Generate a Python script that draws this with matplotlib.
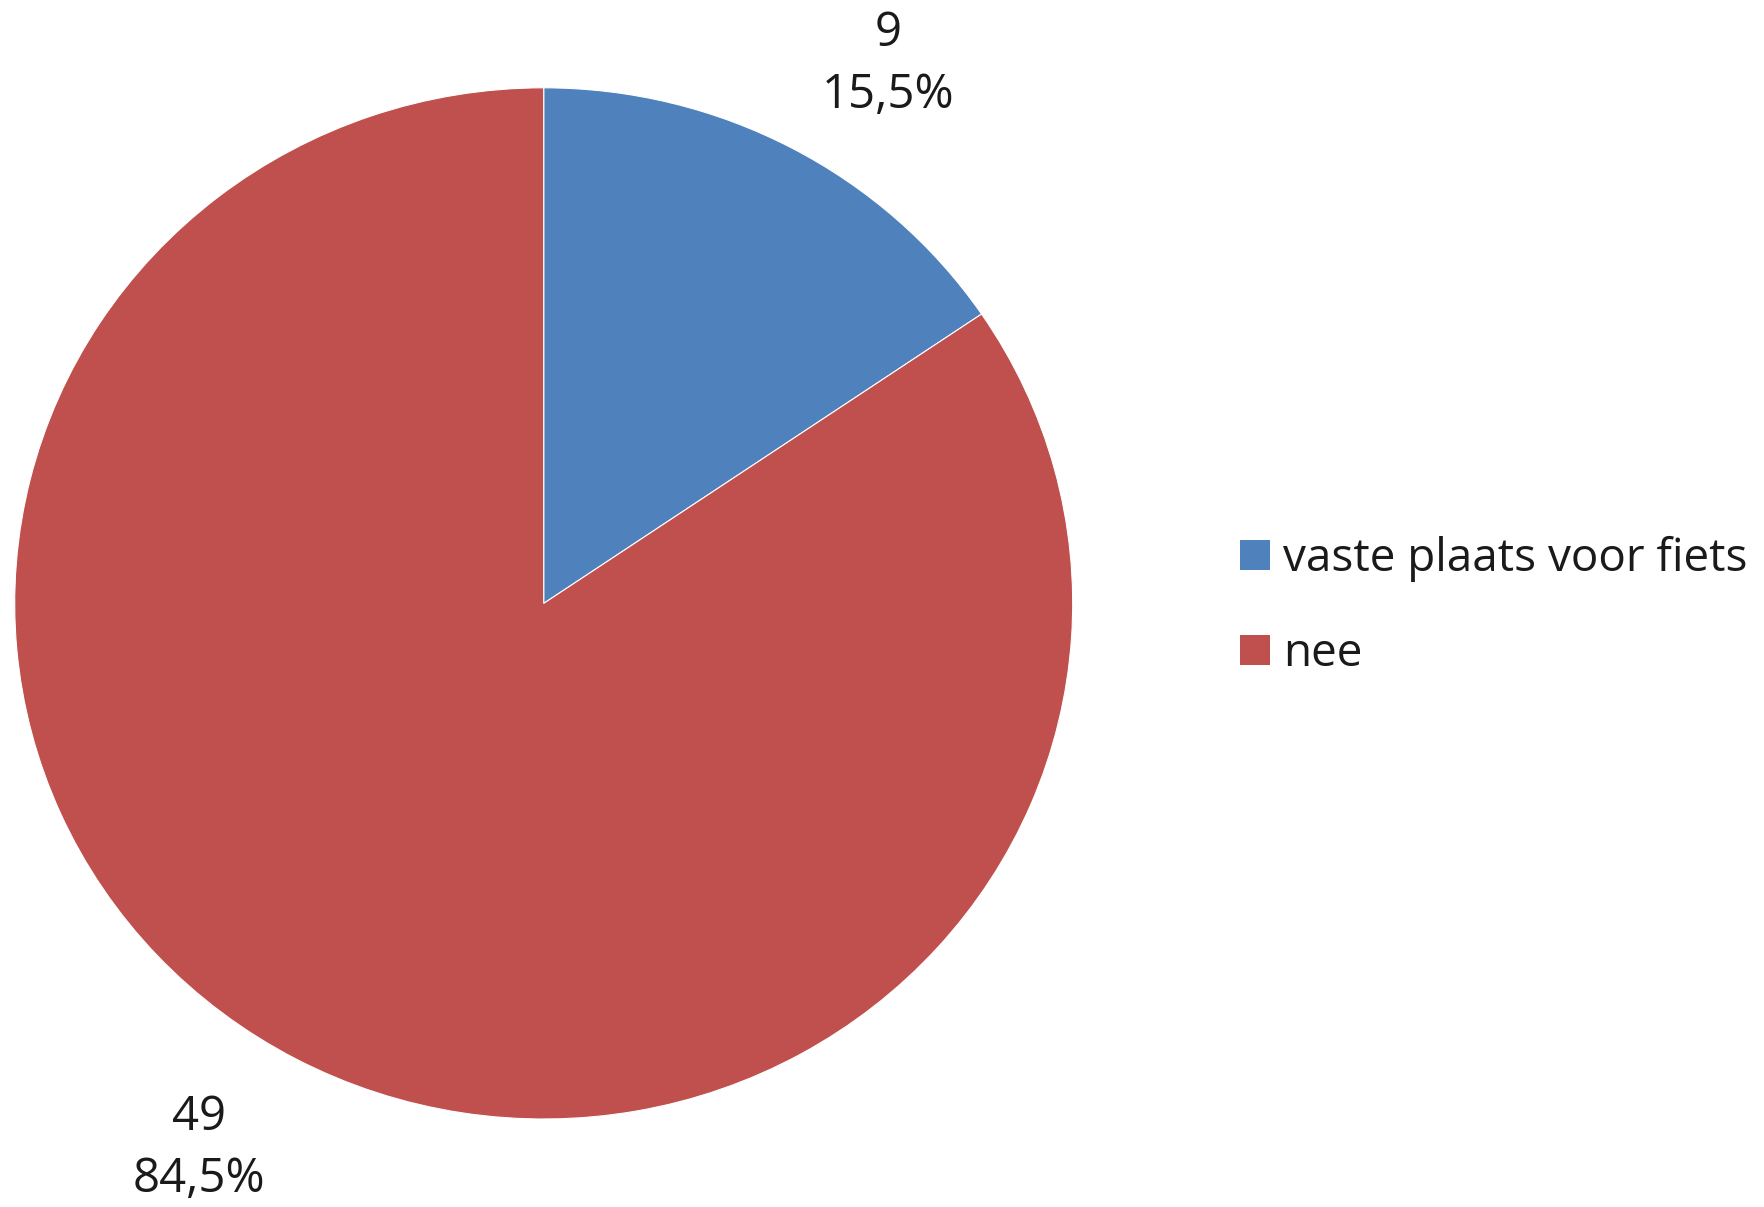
import numpy as np
from matplotlib import pyplot as plt
from matplotlib.patches import Patch

# data
categories = ['vaste plaats voor fiets', 'nee']
counts = [9, 49]
colors = ['#4F81BD', '#C0504D']

plt.rcParams['font.family'] = ['Open Sans', 'DejaVu Sans']

W, H = 1765, 1207
fig = plt.figure(figsize=(W/100, H/100), dpi=100)

# pie is slightly stretched in the reference, so axes aspect is left free
cx, cy, rx, ry = 543.7, 603.4, 529, 515.6
ax = fig.add_axes([(cx-rx)/W, 1-(cy+ry)/H, 2*rx/W, 2*ry/H])
wedges, _ = ax.pie(counts, colors=colors, startangle=90, counterclock=False,
                   radius=1, wedgeprops=dict(edgecolor='white', linewidth=0.8))
ax.set_aspect('auto')
ax.set_xlim(-1, 1)
ax.set_ylim(-1, 1)

total = sum(counts)
for w, n in zip(wedges, counts):
    mid = np.deg2rad((w.theta1 + w.theta2) / 2)
    pct = ('%.1f' % (100*n/total)).replace('.', ',') + '%'
    ax.text(1.39*np.cos(mid), 1.19*np.sin(mid) - 0.005, '%d\n%s' % (n, pct),
            ha='center', va='center', fontsize=34, color='#1a1a1a',
            linespacing=1.4, clip_on=False)

handles = [Patch(facecolor=c, edgecolor='none') for c in colors]
fig.legend(handles, categories, loc='upper left', bbox_to_anchor=(1217/W, 1-513/H),
           frameon=False, fontsize=33, handlelength=0.65, handleheight=0.65,
           handletextpad=0.3, labelspacing=1.07, borderpad=0, labelcolor='#1a1a1a')

fig.savefig('out.png', dpi=100)
